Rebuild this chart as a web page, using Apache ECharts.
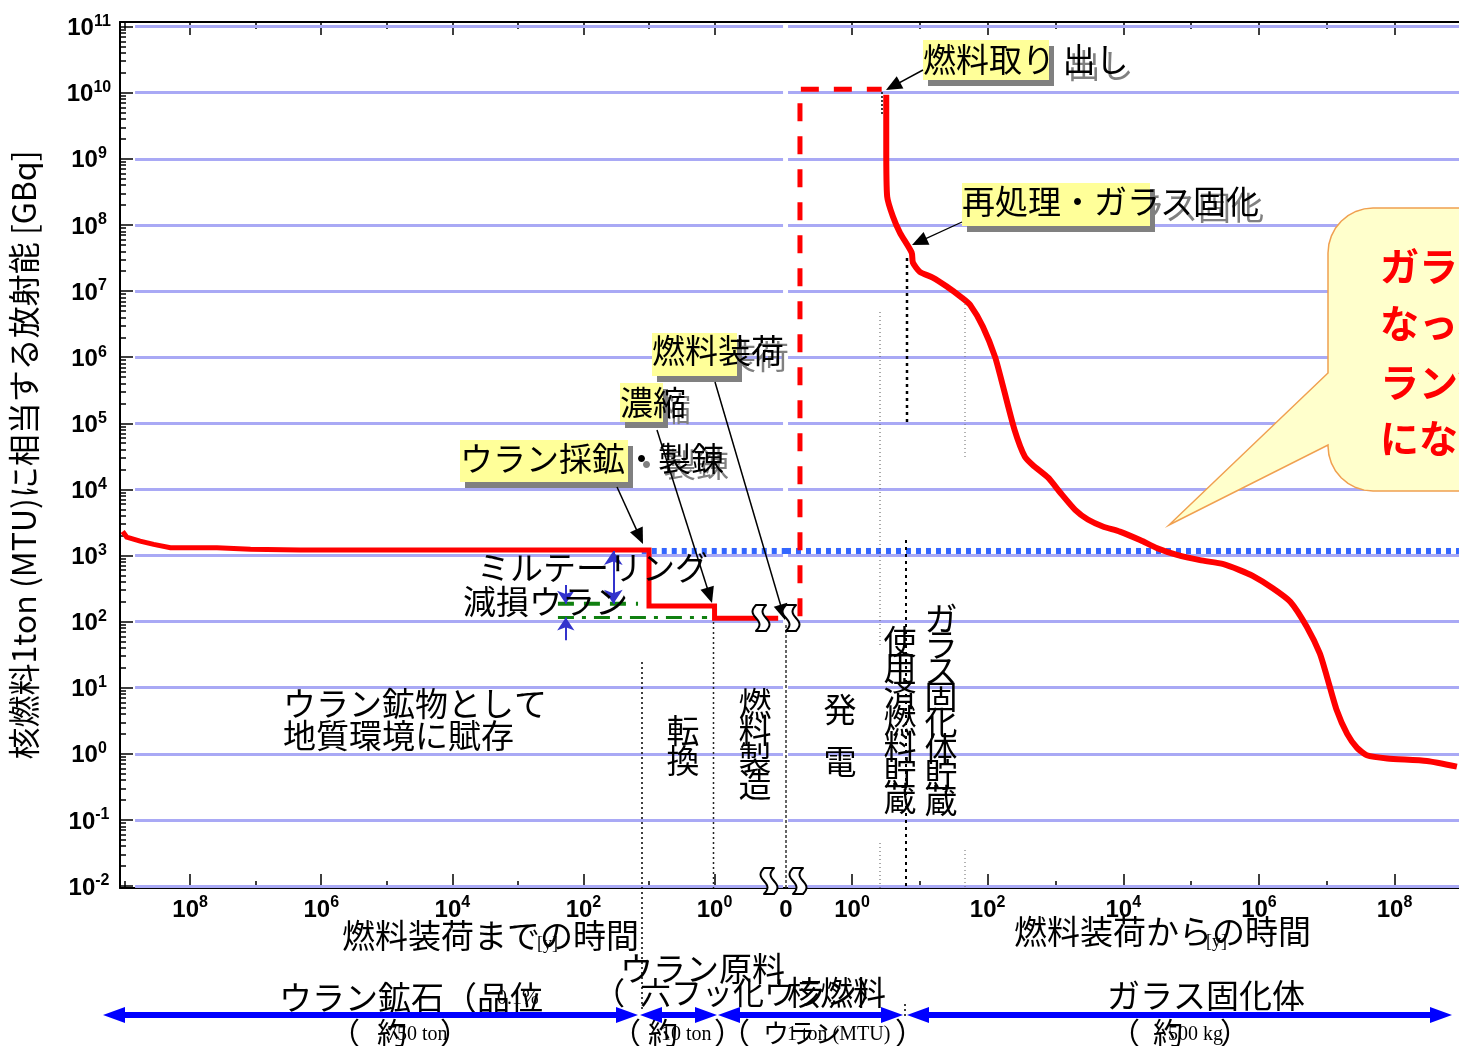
<!DOCTYPE html>
<html>
<head>
<meta charset="utf-8">
<title>核燃料の放射能の推移</title>
<script src="https://cdn.jsdelivr.net/npm/echarts@6.0.0/dist/echarts.min.js"></script>
<style>
html,body{margin:0;padding:0;background:#ffffff;}
#chart{width:1459px;height:1046px;}
</style>
</head>
<body>
<div id="chart"></div>
<script>
// ================= DATA =================
// y-axis decades (exponent of 10, GBq)
const yTickExponents = [-2, -1, 0, 1, 2, 3, 4, 5, 6, 7, 8, 9, 10, 11];
// x-axis decades (exponent of 10, years)
const xLabelExponentsBefore = [8, 6, 4, 2, 0];
const xMajorTicksBefore = [0, 2, 4, 6, 8];
const xMinorTicksBefore = [1, 3, 5, 7, 9];
const xLabelExponentsAfter = [0, 2, 4, 6, 8];
const xMajorTicksAfter = [0, 2, 4, 6, 8];
const xMinorTicksAfter = [1, 3, 5, 7];

// Before fuel loading: time until loading [y] and activity [GBq]
const beforeTime     = [1.07e9, 9.3e8, 5.8e8, 3.6e8, 2.0e8, 3.9e7, 1.2e7, 2.1e6, 10,     10,  1,   1,   0.107];
const beforeActivity = [2.3e3,  1.9e3, 1.65e3, 1.47e3, 1.31e3, 1.31e3, 1.24e3, 1.21e3, 1.21e3, 172, 172, 112, 112];

// After fuel loading: time since loading [y] and activity [GBq]
const afterTime = [3.2, 3.2, 3.3, 4.0, 5.1, 7.6, 7.9, 10, 15.5, 25, 42, 55, 85, 129, 170, 250, 355, 470, 780, 1180,
  1950, 3000, 5000, 8900, 1.8e4, 3.1e4, 6.2e4, 1.35e5, 3.0e5, 5.2e5, 8.1e5, 1.6e6, 2.9e6, 5.1e6, 7.9e6, 1.0e7,
  1.4e7, 2.0e7, 2.8e7, 3.9e7, 7.8e7, 3.0e8, 8.3e8];
const afterActivity = [9.3e9, 1.5e9, 2.7e8, 1.35e8, 7.6e7, 3.8e7, 2.7e7, 1.95e7, 1.6e7, 1.17e7, 7.9e6, 6.2e6, 2.9e6,
  1.0e6, 3.5e5, 7.9e4, 3.1e4, 2.3e4, 1.5e4, 8.9e3, 4.9e3, 3.5e3, 2.75e3, 2.3e3, 1.7e3, 1.3e3, 1.02e3, 850, 740, 600,
  490, 320, 200, 83, 33, 15, 4.6, 2.0, 1.23, 0.95, 0.85, 0.78, 0.64];

// Fuel in reactor (dashed): time since loading [y], activity [GBq]
const reactorTime = [0.171, 0.171, 2.74];
const reactorActivity = [120, 1.13e10, 1.13e10];

// Uranium-ore reference level (blue dotted)
const oreLevelActivity = 1.17e3;
const oreLevelStartTime = 12.9;          // years before loading
const oreLevelEndTime = 8.9e8;           // years after loading

// Mill tailings / depleted uranium levels (green)
const tailingsTime = [245, 14.7];
const tailingsActivity = [186, 186];
const depletedTime = [245, 1.3];
const depletedActivity = [115, 115];

// Difference markers (blue arrows)
const gapArrowTime = [35, 35];
const gapArrowActivity = [1.17e3, 186];
const tailArrowTime = [186, 186];
const tailArrowActivity = [357, 186];
const deplArrowTime = [186, 186];
const deplArrowActivity = [52, 115];

// ================= LAYOUT CONSTANTS =================
const LOG = Math.log10;
const JP = '"Noto Sans CJK JP", "Noto Sans CJK SC", sans-serif';
const NUM = '"Liberation Sans", Arial, sans-serif';
const SERIF = '"Liberation Serif", "DejaVu Serif", serif';
const L_MIN = -1.09, L_MAX = 9.07;     // left panel (inverse), log10 years
const R_MIN = -0.973, R_MAX = 8.95;    // right panel, log10 years
const Y_MIN = -2.03, Y_MAX = 11.07;    // log10 GBq
const GRID_COLOR = '#a9a9f5';

const minorY = [];
for (let n = -3; n <= 11; n++) {
  for (let k = 2; k <= 9; k++) {
    const v = n + LOG(k);
    if (v > Y_MIN && v < Y_MAX) minorY.push(v);
  }
}

const numRich = {
  b: { fontSize: 24, fontWeight: 'bold', fontFamily: NUM, color: '#000', verticalAlign: 'bottom', lineHeight: 28 },
  s: { fontSize: 16, fontWeight: 'bold', fontFamily: NUM, color: '#000', verticalAlign: 'bottom', padding: [0, 0, 11, 0], lineHeight: 18 }
};
const powLabel = v => '{b|10}{s|' + Math.round(v) + '}';

function xAx(grid, min, max, inverse, pos, ticks, len, labels, showLine, fmt) {
  return {
    type: 'value', gridIndex: grid, min: min, max: max, inverse: inverse, position: pos,
    axisLine: { show: showLine, onZero: false, lineStyle: { color: '#000', width: 2 } },
    axisTick: { show: true, inside: true, length: len, customValues: ticks, lineStyle: { color: '#000', width: 1.5 } },
    axisLabel: labels ? { show: true, customValues: labels, formatter: fmt, margin: 6, rich: numRich } : { show: false },
    splitLine: { show: false }
  };
}

const toXY = (ts, as) => ts.map((t, i) => [LOG(t), LOG(as[i])]);

function gridLines(x0, x1) {
  return {
    silent: true, symbol: ['none', 'none'], label: { show: false },
    lineStyle: { color: GRID_COLOR, width: 3, type: 'solid', opacity: 1 },
    emphasis: { disabled: true },
    data: yTickExponents.map(n => [{ coord: [x0, n] }, { coord: [x1, n] }])
  };
}

// ================= GRAPHICS (annotations) =================
const g = [];
function txt(x, y, text, extra, z) {
  g.push({
    type: 'text', x: x, y: y, z: z || 50, silent: true,
    style: Object.assign({ text: text, fill: '#000', font: '33px ' + JP, align: 'left', verticalAlign: 'middle' }, extra || {})
  });
}
function vtxt(cx, cy, text, lh) {
  txt(cx, cy, text.split('').join('\n'), { align: 'center', verticalAlign: 'middle', lineHeight: lh });
}
function arrow(x1, y1, x2, y2, color, width, head, half, both, z) {
  const a = Math.atan2(y2 - y1, x2 - x1), c = Math.cos(a), s = Math.sin(a);
  const sx = both ? x1 + c * head * 0.8 : x1, sy = both ? y1 + s * head * 0.8 : y1;
  g.push({ type: 'line', z: z || 55, silent: true,
    shape: { x1: sx, y1: sy, x2: x2 - c * head * 0.8, y2: y2 - s * head * 0.8 },
    style: { stroke: color, lineWidth: width } });
  const headAt = (px, py, cc, ss) => g.push({ type: 'polygon', z: z || 55, silent: true,
    shape: { points: [[px, py], [px - cc * head - ss * half, py - ss * head + cc * half], [px - cc * head + ss * half, py - ss * head - cc * half]] },
    style: { fill: color } });
  headAt(x2, y2, c, s);
  if (both) headAt(x1, y1, -c, -s);
}
function vdots(x, y1, y2, color, width, dash) {
  g.push({ type: 'line', z: 45, silent: true, shape: { x1: x, y1: y1, x2: x, y2: y2 },
    style: { stroke: color, lineWidth: width, lineDash: dash } });
}
function labelBox(tx, ty, text, bx0, by0, bx1, by1) {
  const font = '33px ' + JP;
  g.push({ type: 'text', x: tx + 5, y: ty + 6, z: 60, silent: true, style: { text: text, fill: '#808080', font: font, verticalAlign: 'middle' } });
  g.push({ type: 'rect', z: 61, silent: true, shape: { x: bx0 + 5, y: by0 + 6, width: bx1 - bx0, height: by1 - by0 }, style: { fill: '#808080' } });
  g.push({ type: 'rect', z: 62, silent: true, shape: { x: bx0, y: by0, width: bx1 - bx0, height: by1 - by0 }, style: { fill: '#ffff99' } });
  g.push({ type: 'text', x: tx, y: ty, z: 63, silent: true, style: { text: text, fill: '#000', font: font, verticalAlign: 'middle' } });
}
function squiggle(cx, cy) {
  const left = [], right = [], N = 16, H = 26, W = 5, A = 3.5;
  for (let i = 0; i <= N; i++) {
    const t = i / N, off = -A * Math.sin(2 * Math.PI * t), y = cy - H / 2 + H * t;
    left.push([cx - W + off, y]);
    right.push([cx + W + off, y]);
  }
  const pts = left.concat(right.reverse());
  g.push({ type: 'polygon', z: 70, silent: true, shape: { points: pts },
    style: { fill: '#ffffff', stroke: '#000', lineWidth: 2, lineJoin: 'round' } });
}

// phase separators
vdots(642, 662, 1012, '#000', 1.5, [2, 3]);
vdots(713.5, 622, 888, '#222', 1.5, [2, 3]);
vdots(786, 625, 888, '#333', 1.5, [3, 2]);
vdots(880, 312, 645, '#555', 1, [1, 3]);
vdots(880, 843, 888, '#555', 1, [1, 3]);
vdots(907, 258, 425, '#000', 2.5, [3, 4]);
vdots(906, 540, 888, '#000', 2, [3, 4]);
vdots(965, 300, 460, '#666', 1, [1, 3]);
vdots(965, 850, 888, '#666', 1, [1, 3]);
vdots(905, 1004, 1016, '#000', 1.5, [2, 3]);
vdots(882, 92, 115, '#000', 1.5, [2, 2]);

// axis-break marks
squiggle(761, 618); squiggle(791, 618);
squiggle(769, 881); squiggle(798, 881);

// texts inside plot
txt(283, 703, 'ウラン鉱物として');
txt(283, 735, '地質環境に賦存');
txt(477, 567, 'ミルテーリング');
txt(463, 601, '減損ウラン');
vtxt(683, 745, '転換', 30);
vtxt(755, 744, '燃料製造', 27);
vtxt(840, 735, '発電', 52);
vtxt(900, 720, '使用済燃料貯蔵', 26.3);
vtxt(941, 709, 'ガラス固化体貯蔵', 26);

// yellow labels + arrows
labelBox(923, 59, '燃料取り 出し', 923, 40, 1049, 80);
arrow(923, 70, 886, 90, '#000', 1.5, 16, 7, false, 64);
labelBox(962, 201, '再処理・ガラス固化', 962, 183, 1150, 226);
arrow(962, 222, 912, 245, '#000', 1.2, 16, 7, false, 64);
labelBox(652, 350, '燃料装荷', 652, 333, 737, 376);
arrow(715, 382, 785, 620, '#000', 1.5, 16, 7, false, 64);
labelBox(620, 402, '濃縮', 620, 383, 663, 422);
arrow(657, 430, 712, 603, '#000', 1.5, 16, 7, false, 64);
labelBox(460, 458, 'ウラン採鉱・製錬', 460, 440, 628, 482);
arrow(617, 487, 643, 544, '#000', 1.5, 16, 7, false, 64);

// callout (cut by the right edge)
(function () {
  const pts = [[1373, 208], [1480, 208], [1480, 491], [1373, 491]];
  for (let i = 1; i <= 8; i++) { const t = Math.PI / 2 + i * Math.PI / 16; pts.push([1373 + 45 * Math.cos(t), 446 + 45 * Math.sin(t)]); }
  pts.push([1328, 445], [1169, 525], [1328, 373], [1328, 253]);
  for (let i = 1; i <= 8; i++) { const t = Math.PI + i * Math.PI / 16; pts.push([1373 + 45 * Math.cos(t), 253 + 45 * Math.sin(t)]); }
  g.push({ type: 'polygon', z: 80, silent: true, shape: { points: pts }, style: { fill: '#ffffcc', stroke: '#f0a050', lineWidth: 1.5 } });
  const red = { fill: '#ff0000', font: 'bold 39px ' + JP };
  txt(1380, 266, 'ガラス固化体に', red, 81);
  txt(1380, 323, 'なってから、ウ', red, 81);
  txt(1380, 382, 'ラン鉱石レベル', red, 81);
  txt(1380, 438, 'になるまで', red, 81);
})();

// axis titles
txt(342, 935, '燃料装荷までの時間');
txt(537, 944, '[y]', { font: '18px ' + SERIF });
txt(1014, 931, '燃料装荷からの時間');
txt(1206, 942, '[y]', { font: '18px ' + SERIF });

// bottom stage bar
const BLUE = '#0000ff';
arrow(103, 1015, 638, 1015, BLUE, 6, 22, 8, true, 55);
arrow(640, 1015, 717, 1015, BLUE, 6, 22, 8, true, 55);
arrow(718, 1015, 903, 1015, BLUE, 6, 22, 8, true, 55);
arrow(907, 1015, 1452, 1015, BLUE, 6, 22, 8, true, 55);
const small = { font: '20px ' + SERIF };
txt(279, 997, 'ウラン鉱石（品位');
txt(497, 999, '0.1%', small);
txt(330, 1033, '（', { font: '30px ' + JP });
txt(377, 1033, '約', { font: '30px ' + JP });
txt(387, 1035, '750 ton', small);
txt(440, 1033, '）', { font: '30px ' + JP });
txt(620, 968, 'ウラン原料');
txt(594, 992, '（', { font: '31px ' + JP });
txt(640, 992, '六フッ化ウラン）', { font: '31px ' + JP });
txt(787, 992, '核燃料');
txt(611, 1033, '（', { font: '30px ' + JP });
txt(648, 1033, '約', { font: '30px ' + JP });
txt(661, 1035, '10 ton', small);
txt(714, 1033, '）', { font: '30px ' + JP });
txt(720, 1033, '（', { font: '30px ' + JP });
txt(763, 1033, 'ウラン', { font: '26px ' + JP });
txt(787, 1035, '1 ton (MTU)', small);
txt(895, 1033, '）', { font: '30px ' + JP });
txt(1107, 995, 'ガラス固化体');
txt(1110, 1033, '（', { font: '30px ' + JP });
txt(1153, 1033, '約', { font: '30px ' + JP });
txt(1168, 1035, '500 kg', small);
txt(1220, 1033, '）', { font: '30px ' + JP });

// ================= OPTION =================
const option = {
  animation: false,
  backgroundColor: '#ffffff',
  grid: [
    { left: 120, top: 22, width: 666, bottom: 158, containLabel: false },
    { left: 786, top: 22, right: 0, bottom: 158, containLabel: false }
  ],
  xAxis: [
    xAx(0, L_MIN, L_MAX, true, 'bottom', xMajorTicksBefore, 14, xLabelExponentsBefore.concat([L_MIN]), true,
      v => (v < -0.5 ? '{b|0}' : powLabel(v))),
    xAx(0, L_MIN, L_MAX, true, 'bottom', xMinorTicksBefore, 7, null, false),
    xAx(0, L_MIN, L_MAX, true, 'top', xMajorTicksBefore, 13, null, true),
    xAx(0, L_MIN, L_MAX, true, 'top', xMinorTicksBefore, 7, null, false),
    xAx(1, R_MIN, R_MAX, false, 'bottom', xMajorTicksAfter, 14, xLabelExponentsAfter, true, powLabel),
    xAx(1, R_MIN, R_MAX, false, 'bottom', xMinorTicksAfter, 7, null, false),
    xAx(1, R_MIN, R_MAX, false, 'top', xMajorTicksAfter, 13, null, true),
    xAx(1, R_MIN, R_MAX, false, 'top', xMinorTicksAfter, 7, null, false)
  ],
  yAxis: [
    {
      type: 'value', gridIndex: 0, min: Y_MIN, max: Y_MAX, position: 'left',
      name: '核燃料1ton (MTU)に相当する放射能 [GBq]', nameLocation: 'middle', nameGap: 80, nameRotate: 90,
      nameTextStyle: { fontFamily: JP, fontSize: 32, color: '#000' },
      axisLine: { show: true, onZero: false, lineStyle: { color: '#000', width: 2 } },
      axisTick: { show: true, inside: true, length: 13, customValues: yTickExponents, lineStyle: { color: '#000', width: 1.5 } },
      axisLabel: { show: true, customValues: yTickExponents, formatter: powLabel, margin: 31, align: 'center', rich: numRich },
      splitLine: { show: false }
    },
    {
      type: 'value', gridIndex: 0, min: Y_MIN, max: Y_MAX, position: 'left',
      axisLine: { show: false, onZero: false },
      axisTick: { show: true, inside: true, length: 6, customValues: minorY, lineStyle: { color: '#000', width: 1.5 } },
      axisLabel: { show: false }, splitLine: { show: false }
    },
    {
      type: 'value', gridIndex: 1, min: Y_MIN, max: Y_MAX, position: 'left',
      axisLine: { show: false, onZero: false }, axisTick: { show: false }, axisLabel: { show: false }, splitLine: { show: false }
    }
  ],
  series: [
    { name: 'gridL', type: 'line', xAxisIndex: 0, yAxisIndex: 0, z: 1, silent: true, showSymbol: false,
      lineStyle: { opacity: 0 }, data: [[L_MIN, Y_MIN]], markLine: gridLines(8.84, L_MIN + 0.045) },
    { name: 'gridR', type: 'line', xAxisIndex: 4, yAxisIndex: 2, z: 1, silent: true, showSymbol: false,
      lineStyle: { opacity: 0 }, data: [[R_MIN, Y_MIN]], markLine: gridLines(R_MIN + 0.03, R_MAX) },
    { name: 'ore level (before)', type: 'line', xAxisIndex: 0, yAxisIndex: 0, z: 3, silent: true, showSymbol: false,
      lineStyle: { color: '#3366ff', width: 6, type: [5, 5], cap: 'butt' },
      data: [[LOG(oreLevelStartTime), LOG(oreLevelActivity)], [L_MIN, LOG(oreLevelActivity)]] },
    { name: 'ore level (after)', type: 'line', xAxisIndex: 4, yAxisIndex: 2, z: 3, silent: true, showSymbol: false,
      lineStyle: { color: '#3366ff', width: 6, type: [5, 5], cap: 'butt' },
      data: [[R_MIN, LOG(oreLevelActivity)], [LOG(oreLevelEndTime), LOG(oreLevelActivity)]] },
    { name: 'tailings', type: 'line', xAxisIndex: 0, yAxisIndex: 0, z: 3, silent: true, showSymbol: false,
      lineStyle: { color: '#108010', width: 4, type: [16, 10] }, data: toXY(tailingsTime, tailingsActivity) },
    { name: 'depleted', type: 'line', xAxisIndex: 0, yAxisIndex: 0, z: 3, silent: true, showSymbol: false,
      lineStyle: { color: '#108010', width: 3, type: [16, 8, 4, 8] }, data: toXY(depletedTime, depletedActivity) },
    { name: 'before loading', type: 'line', xAxisIndex: 0, yAxisIndex: 0, z: 5, silent: true, showSymbol: false,
      lineStyle: { color: '#ff0000', width: 5, join: 'miter' }, data: toXY(beforeTime, beforeActivity) },
    { name: 'in reactor', type: 'line', xAxisIndex: 4, yAxisIndex: 2, z: 5, silent: true, showSymbol: false,
      lineStyle: { color: '#ff0000', width: 5, type: [18, 15] }, data: toXY(reactorTime, reactorActivity) },
    { name: 'after loading', type: 'line', xAxisIndex: 4, yAxisIndex: 2, z: 5, silent: true, showSymbol: false, smooth: 0.2,
      lineStyle: { color: '#ff0000', width: 6 }, data: toXY(afterTime, afterActivity) },
    { name: 'gap arrow', type: 'lines', coordinateSystem: 'cartesian2d', xAxisIndex: 0, yAxisIndex: 0, z: 6, silent: true,
      symbol: ['arrow', 'arrow'], symbolSize: 14, lineStyle: { color: '#3333cc', width: 2, opacity: 1 },
      data: [{ coords: toXY(gapArrowTime, gapArrowActivity) }] },
    { name: 'mark arrows', type: 'lines', coordinateSystem: 'cartesian2d', xAxisIndex: 0, yAxisIndex: 0, z: 6, silent: true,
      symbol: ['none', 'arrow'], symbolSize: 13, lineStyle: { color: '#3333cc', width: 2, opacity: 1 },
      data: [{ coords: toXY(tailArrowTime, tailArrowActivity) }, { coords: toXY(deplArrowTime, deplArrowActivity) }] }
  ],
  graphic: { elements: g }
};

const chart = echarts.init(document.getElementById('chart'), null, { renderer: 'canvas' });
chart.setOption(option);
</script>
</body>
</html>
